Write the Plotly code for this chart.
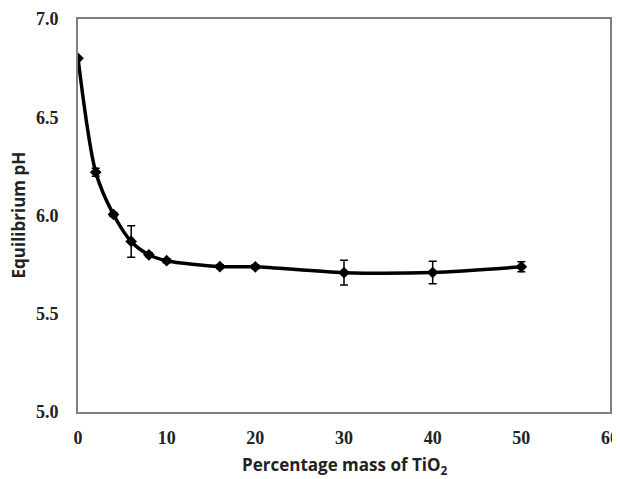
import plotly.graph_objects as go

mass_pct = [0, 2, 4, 6, 8, 10, 16, 20, 30, 40, 50]
ph_values = [6.80, 6.22, 6.005, 5.868, 5.80, 5.77, 5.74, 5.739, 5.709, 5.71, 5.739]
ph_errors = [0.0, 0.02, 0.01, 0.08, 0.01, 0.01, 0.01, 0.01, 0.063, 0.057, 0.025]

x_ticks = [0, 10, 20, 30, 40, 50, 60]
y_ticks = [5.0, 5.5, 6.0, 6.5, 7.0]

x_title = "Percentage mass of TiO<sub>2</sub>"
y_title = "Equilibrium pH"

fig = go.Figure()
fig.add_trace(go.Scatter(
    x=mass_pct, y=ph_values,
    mode="lines+markers",
    line=dict(color="black", width=3.5, shape="spline", smoothing=0.8),
    marker=dict(symbol="diamond", size=9, color="black"),
    error_y=dict(type="data", array=ph_errors, visible=True,
                 color="black", thickness=1.5, width=4),
    showlegend=False,
))

tick_font = dict(family="Liberation Serif", size=18, color="#222222", weight="bold")
title_font = dict(family="Open Sans", size=17, color="#222222", weight="bold")

# page has an 8px body margin, so the figure is sized to fill the rest
fig.update_layout(
    width=612, height=471,
    margin=dict(l=70, r=1, t=6, b=67),
    paper_bgcolor="white", plot_bgcolor="white",
    xaxis=dict(
        range=[0, 60], tickvals=x_ticks, ticktext=[str(v) for v in x_ticks],
        showgrid=False, zeroline=False, showline=True, mirror=True,
        linecolor="#7f7f7f", linewidth=2, ticks="",
        tickfont=tick_font, ticklabelstandoff=8, ticklabeloverflow="allow",
    ),
    yaxis=dict(
        range=[5.0, 7.0], tickvals=y_ticks, ticktext=[f"{v:.1f}" for v in y_ticks],
        showgrid=False, zeroline=False, showline=True, mirror=True,
        linecolor="#7f7f7f", linewidth=2, ticks="",
        tickfont=tick_font, ticklabelstandoff=14, ticklabeloverflow="allow",
    ),
    annotations=[
        dict(text=x_title, xref="paper", yref="paper", x=0.5, y=0,
             xanchor="center", yanchor="middle", yshift=-53,
             showarrow=False, font=title_font),
        dict(text=y_title, xref="paper", yref="paper", x=0, y=0.5,
             xanchor="center", yanchor="middle", xshift=-60, textangle=-90,
             showarrow=False, font=title_font),
    ],
)

fig.write_html("out.html")
